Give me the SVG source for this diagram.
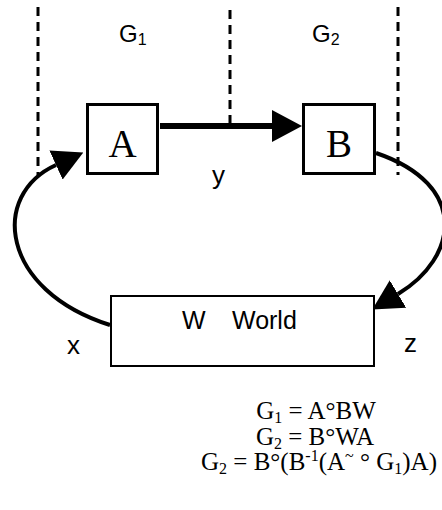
<svg xmlns="http://www.w3.org/2000/svg" width="442" height="510" viewBox="0 0 442 510">
  <style>
    .sans { font-family: "Liberation Sans", Arial, sans-serif; fill: #000; }
    .serif { font-family: "Liberation Serif", "Times New Roman", serif; fill: #000; }
    .box { fill: #fff; stroke: #000; stroke-width: 3; }
    .world { fill: #fff; stroke: #000; stroke-width: 2; }
    .divider { fill: none; stroke: #000; stroke-width: 3; stroke-dasharray: 9 6; }
    .edge { fill: none; stroke: #000; }
    .idx { font-size: 16px; }
  </style>
  <defs>
    <marker id="head" markerUnits="userSpaceOnUse" markerWidth="30" markerHeight="32" viewBox="0 0 30 32" refX="0" refY="16" orient="auto">
      <path d="M0,0 L30,16 L0,32 Z" fill="#000"/>
    </marker>
  </defs>

  <!-- dashed boundaries of the two groups -->
  <g id="dividers">
    <line class="divider" x1="38" y1="7" x2="38" y2="175"/>
    <line class="divider" x1="230" y1="10" x2="230" y2="124"/>
    <line class="divider" x1="398" y1="7" x2="398" y2="175"/>
  </g>

  <!-- group labels -->
  <g id="label-G1">
    <text class="sans" x="119" y="42" font-size="24">G<tspan class="idx" dy="3">1</tspan></text>
  </g>
  <g id="label-G2">
    <text class="sans" x="312" y="42" font-size="24">G<tspan class="idx" dy="3">2</tspan></text>
  </g>

  <!-- connectors -->
  <g id="connectors">
    <line class="edge" stroke-width="6" x1="160" y1="126" x2="272" y2="126" marker-end="url(#head)"/>
    <path class="edge" stroke-width="4" d="M376,153 C470,185 458,258 398,294" marker-end="url(#head)"/>
    <path class="edge" stroke-width="4" d="M110,325 C0,290 -10,195 56,165" marker-end="url(#head)"/>
  </g>

  <g id="node-A">
    <rect class="box" x="87.5" y="104.5" width="70" height="69"/>
    <text class="serif" x="122.5" y="157" font-size="39" text-anchor="middle">A</text>
  </g>
  <g id="node-B">
    <rect class="box" x="303.5" y="104.5" width="71" height="69"/>
    <text class="serif" x="339" y="157" font-size="39" text-anchor="middle">B</text>
  </g>
  <g id="node-W">
    <rect class="world" x="111" y="296" width="263" height="70"/>
    <text class="sans" y="329" font-size="25"><tspan x="182">W</tspan><tspan x="232">World</tspan></text>
  </g>

  <!-- edge labels -->
  <g id="edge-labels">
    <text class="sans" x="212" y="184" font-size="26">y</text>
    <text class="sans" x="67" y="354" font-size="26">x</text>
    <text class="sans" x="404" y="352" font-size="26">z</text>
  </g>

  <!-- relations -->
  <g id="equations" class="serif" font-size="25" text-anchor="middle">
    <text x="316" y="419">G<tspan class="idx" dy="4">1</tspan><tspan dy="-4"> = A°BW</tspan></text>
    <text x="315" y="445">G<tspan class="idx" dy="4">2</tspan><tspan dy="-4"> = B°WA</tspan></text>
    <text x="319" y="470">G<tspan class="idx" dy="4">2</tspan><tspan dy="-4"> = B°(B</tspan><tspan class="idx" dy="-9">-1</tspan><tspan dy="9">(A</tspan><tspan class="idx" dy="-9">~</tspan><tspan dy="9"> ° G</tspan><tspan class="idx" dy="4">1</tspan><tspan dy="-4">)A)</tspan></text>
  </g>
</svg>
